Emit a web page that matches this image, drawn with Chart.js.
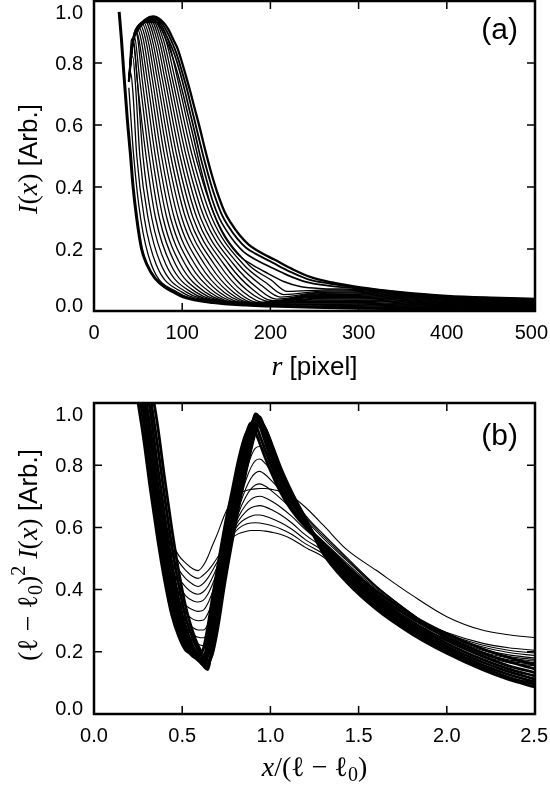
<!DOCTYPE html>
<html>
<head>
<meta charset="utf-8">
<script src="https://cdn.jsdelivr.net/npm/chart.js@4.4.1/dist/chart.umd.min.js"></script>
<style>
  html, body { margin: 0; padding: 0; background: #fff; }
  #wrap { position: relative; width: 550px; height: 793px; }
  canvas { position: absolute; left: 0; }
  #chart-a { top: 0; }
  #chart-b { top: 390px; }
</style>
</head>
<body>
<div id="wrap">
  <canvas id="chart-a" width="550" height="390"></canvas>
  <canvas id="chart-b" width="550" height="403"></canvas>
</div>
<script>
// ---- panel (a): I(r) profiles, [r, I] pairs ----
const firstProfile = [[28.5,.965],[31,.88],[34,.76],[38,.61],[41.5,.5],[44,.41],[48.4,.3],[54,.2],[60,.15],[69,.106],[82,.074],[91,.06],[101,.046],[135,.027],[173,.019],[200,.016],[250,.012],[300,.009],[400,.006],[500,.004]];

const midProfiles = [
  [[39.5,.72],[45,.5],[52.8,.3],[65,.15],[94.8,.06],[130,.031],[200,.018],[300,.0117],[400,.0077],[500,.0054]],
  [[39.5,.74],[41.5,.77],[44,.71],[48.5,.5],[57,.3],[70.5,.15],[100.1,.06],[135,.032],[200,.02],[300,.0144],[400,.0094],[500,.0068]],
  [[39.5,.74],[42,.82],[44,.82],[47,.73],[52,.5],[61.3,.3],[76,.15],[105.4,.06],[140,.032],[200,.022],[300,.0172],[400,.0112],[500,.0082]],
  [[39.5,.74],[42.5,.85],[44.5,.86],[47.5,.8],[55.5,.5],[65.5,.3],[81.5,.15],[110.7,.06],[145,.031],[200,.023],[300,.0199],[400,.0129],[500,.0096]],
  [[39.5,.74],[42.5,.875],[44.5,.88],[48.8,.75],[59,.5],[69.8,.3],[87,.15],[116,.06],[150,.03],[200,.024],[300,.0226],[400,.0146],[500,.011]],
  [[39.5,.74],[43.5,.86],[45.5,.89],[51.7,.75],[62.5,.5],[74.1,.3],[92.5,.15],[121.3,.06],[155,.029],[210,.026],[300,.0253],[400,.0163],[500,.0124]],
  [[39.5,.74],[43.5,.855],[46,.9],[48.8,.89],[54.5,.75],[66,.5],[78.3,.3],[98,.15],[126.6,.06],[160,.028],[220,.028],[300,.028],[400,.018],[500,.0138]],
  [[39.5,.74],[43.5,.855],[47,.91],[51.3,.87],[57.4,.75],[69.5,.5],[82.6,.3],[103.5,.15],[131.9,.06],[165,.027],[230,.03],[300,.0308],[400,.0198],[500,.0152]],
  [[39.5,.74],[43.5,.855],[48.5,.915],[53.8,.87],[60.2,.75],[73,.5],[86.8,.3],[109,.15],[137.2,.06],[170,.026],[240,.032],[300,.0335],[400,.0215],[500,.0166]],
  [[39.5,.74],[43.5,.855],[50,.92],[56.4,.87],[63.1,.75],[76.5,.5],[91.1,.3],[114.5,.15],[142.5,.06],[175,.025],[245,.035],[300,.0362],[400,.0232],[500,.018]],
  [[39.5,.74],[43.5,.855],[52,.925],[59,.87],[66,.75],[80,.5],[95.4,.3],[120,.15],[147.8,.06],[180,.025],[250,.038],[300,.0389],[400,.0249],[500,.0194]],
  [[39.5,.74],[43.5,.855],[48,.905],[54,.93],[61.5,.87],[68.8,.75],[83.5,.5],[99.6,.3],[125.5,.15],[153.1,.06],[183,.024],[250,.041],[300,.0416],[400,.0266],[500,.0208]],
  [[39.5,.74],[43.5,.855],[48,.905],[56,.932],[64,.87],[71.7,.75],[87,.5],[103.9,.3],[131,.15],[158.4,.06],[187,.023],[250,.044],[300,.0444],[400,.0284],[500,.0222]],
  [[39.5,.74],[43.5,.855],[48,.905],[55,.925],[58,.935],[66.5,.87],[74.5,.75],[90.5,.5],[108.1,.3],[136.5,.15],[163.7,.06],[191,.024],[250,.047],[300,.0471],[400,.0301],[500,.0236]],
  [[39.5,.74],[43.5,.855],[48,.905],[55,.928],[60,.937],[69.1,.87],[77.4,.75],[94,.5],[112.4,.3],[142,.15],[169,.062],[195,.026],[255,.05],[300,.0498],[400,.0318],[500,.025]],
  [[39.5,.74],[43.5,.855],[48,.905],[55,.93],[62,.938],[71.7,.87],[80.3,.75],[97.5,.5],[116.7,.3],[147.5,.15],[174.3,.065],[199,.03],[255,.053],[300,.0525],[400,.0335],[500,.0264]],
  [[39.5,.74],[43.5,.855],[48,.905],[55,.93],[64,.94],[74.2,.87],[83.1,.75],[101,.5],[120.9,.3],[153,.15],[179.6,.07],[203,.033],[258,.056],[300,.0552],[400,.0352],[500,.0278]],
  [[39.5,.74],[43.5,.855],[48,.905],[55,.93],[66,.94],[76.7,.87],[86,.75],[104.5,.5],[125.2,.3],[158.5,.15],[184.9,.075],[207,.038],[260,.059],[300,.058],[400,.037],[500,.0292]],
  [[39.5,.74],[43.5,.855],[48,.905],[55,.93],[68,.938],[79.2,.87],[88.8,.75],[108,.5],[129.4,.3],[164,.15],[190.2,.082],[211,.045],[262,.062],[300,.0607],[400,.0387],[500,.0306]],
  [[39.5,.74],[43.5,.855],[48,.905],[55,.93],[70,.935],[81.8,.87],[91.7,.75],[111.5,.5],[133.7,.3],[169.5,.15],[195.5,.09],[215,.053],[265,.065],[300,.0634],[400,.0404],[500,.032]],
  [[39.5,.74],[43.5,.855],[48,.905],[55,.93],[72,.93],[84.4,.87],[94.6,.75],[115,.5],[138,.3],[175,.15],[200.8,.10],[219,.063],[268,.068],[300,.0661],[400,.0421],[500,.0334]]
];

// the last profiles, bunched into the thick outer edge
const edgeProfiles = [
  [[39.5,.74],[44,.865],[50,.905],[57,.93],[64,.94],[72,.93],[78,.9],[84,.86],[89,.82],[95,.765],[101,.7],[106,.64],[112,.57],[118,.495],[125,.415],[132,.345],[140,.285],[148,.24],[158,.2],[168,.17],[180,.148],[198,.12],[215,.095],[235,.078],[260,.072],[300,.069],[350,.055],[400,.044],[450,.039],[500,.035]],
  [[39.5,.74],[44,.865],[50,.91],[58,.935],[65,.943],[74,.932],[80,.9],[86,.865],[91,.83],[97,.775],[103,.71],[108,.65],[114,.58],[120,.505],[127,.43],[134,.36],[142,.3],[150,.26],[160,.22],[170,.19],[182,.168],[200,.142],[220,.115],[240,.094],[265,.082],[300,.072],[350,.057],[400,.0456],[450,.04],[500,.036]],
  [[39.5,.74],[44,.87],[50,.915],[58,.938],[66,.946],[75,.935],[82,.905],[88,.87],[93,.835],[99,.78],[105,.72],[111,.65],[117,.58],[123,.51],[130,.435],[137,.37],[145,.31],[152,.275],[162,.235],[172,.205],[183,.185],[203,.155],[222,.127],[242,.103],[268,.088],[300,.075],[350,.059],[400,.047],[450,.041],[500,.0375]],
  [[39.5,.74],[44,.87],[50,.915],[58,.94],[67,.95],[76,.938],[84,.91],[90,.875],[95,.845],[101,.79],[108,.72],[114,.655],[120,.59],[126,.52],[133,.445],[140,.38],[148,.32],[155,.285],[165,.245],[175,.215],[185,.195],[205,.165],[225,.135],[245,.11],[270,.092],[300,.077],[350,.06],[400,.049],[450,.043],[500,.039]]
];
const edgeWidths = [1.5, 1.7, 1.9, 2.3];

const rTicks = [0, 100, 200, 300, 400, 500];
const rTickLabels = ['0', '100', '200', '300', '400', '500'];
const yTicks = [0, 0.2, 0.4, 0.6, 0.8, 1.0];
const yTickLabels = ['0.0', '0.2', '0.4', '0.6', '0.8', '1.0'];

// ---- panel (b): rescaled profiles on a shared x grid ----
const xGridB = [0.24, 0.28, 0.32, 0.36, 0.40, 0.44, 0.48, 0.52, 0.56, 0.59, 0.62, 0.645, 0.67, 0.70, 0.74, 0.78, 0.82, 0.86, 0.89, 0.915, 0.94, 0.97, 1.01, 1.06, 1.12, 1.2, 1.3, 1.43, 1.6, 1.8, 2.0, 2.2, 2.35, 2.5];

// collapsed curves (the thick band)
const bandCurvesB = [
  [1.035,.89,.72,.565,.43,.32,.25,.205,.195,.19,.21,.28,.37,.47,.60,.71,.82,.90,.92,.905,.87,.825,.77,.71,.655,.60,.55,.478,.395,.318,.258,.21,.182,.158],
  [1.077,.94,.77,.61,.466,.35,.268,.212,.185,.177,.175,.245,.335,.44,.57,.685,.795,.895,.935,.93,.895,.85,.79,.725,.665,.605,.545,.47,.385,.308,.246,.197,.168,.145],
  [1.12,.985,.82,.655,.505,.38,.288,.226,.19,.172,.162,.21,.30,.41,.54,.66,.77,.87,.93,.955,.925,.875,.81,.74,.68,.613,.54,.462,.376,.298,.236,.186,.155,.133],
  [1.16,1.02,.87,.70,.547,.415,.31,.243,.196,.176,.158,.185,.26,.37,.50,.63,.74,.845,.915,.962,.94,.89,.83,.758,.692,.62,.537,.455,.368,.29,.227,.176,.145,.122],
  [1.2,1.06,.915,.745,.59,.45,.337,.26,.207,.178,.155,.143,.235,.34,.475,.605,.72,.825,.90,.965,.95,.90,.84,.765,.695,.62,.53,.447,.36,.282,.218,.167,.136,.112],
  [1.25,1.105,.97,.80,.64,.49,.37,.28,.22,.19,.165,.152,.21,.315,.455,.585,.70,.81,.885,.94,.955,.91,.85,.775,.70,.622,.525,.44,.352,.274,.21,.158,.127,.103],
  [1.3,1.16,1.02,.865,.70,.545,.415,.31,.243,.205,.178,.162,.195,.295,.435,.565,.68,.79,.865,.92,.945,.92,.86,.785,.71,.625,.52,.433,.345,.266,.202,.15,.118,.095],
  [1.35,1.21,1.07,.93,.76,.60,.46,.345,.265,.22,.19,.172,.19,.27,.415,.545,.665,.775,.85,.905,.935,.92,.865,.79,.715,.628,.515,.425,.337,.258,.195,.143,.111,.087]
];

// early, not yet collapsed curves
const earlyCurvesB = [
  [1.15,1.0,.86,.72,.62,.555,.51,.485,.467,.461,.478,.505,.54,.58,.64,.685,.708,.718,.722,.724,.725,.725,.722,.715,.70,.664,.607,.53,.462,.383,.313,.27,.255,.245],
  [1.15,1.0,.855,.715,.605,.535,.49,.462,.442,.436,.447,.46,.478,.503,.537,.565,.58,.587,.59,.59,.59,.588,.584,.577,.563,.535,.505,.445,.375,.31,.262,.228,.213,.205],
  [1.16,1.01,.86,.71,.59,.515,.465,.435,.417,.41,.42,.437,.46,.49,.533,.572,.597,.61,.614,.615,.614,.611,.605,.595,.578,.547,.515,.452,.38,.31,.258,.222,.205,.196],
  [1.16,1.01,.86,.705,.58,.495,.44,.408,.39,.385,.393,.41,.437,.475,.528,.575,.61,.628,.636,.64,.64,.636,.628,.615,.595,.56,.525,.46,.385,.312,.255,.216,.198,.188],
  [1.16,1.015,.865,.71,.575,.48,.415,.38,.364,.36,.366,.385,.415,.458,.52,.577,.622,.65,.663,.668,.67,.666,.656,.64,.615,.575,.535,.47,.392,.315,.252,.21,.19,.18],
  [1.17,1.02,.87,.715,.57,.465,.39,.35,.335,.33,.334,.355,.39,.44,.51,.578,.635,.672,.69,.698,.70,.695,.683,.664,.636,.592,.545,.478,.398,.318,.25,.205,.185,.175],
  [1.17,1.02,.87,.715,.565,.45,.37,.325,.305,.30,.302,.322,.36,.42,.50,.58,.648,.698,.724,.736,.74,.733,.716,.692,.66,.61,.555,.487,.403,.32,.248,.20,.18,.17],
  [1.17,1.025,.875,.715,.56,.44,.35,.30,.278,.27,.27,.288,.33,.40,.49,.58,.66,.724,.758,.775,.78,.77,.748,.717,.678,.624,.565,.495,.407,.322,.246,.196,.174,.165],
  [1.17,1.025,.875,.715,.56,.43,.335,.28,.255,.247,.245,.262,.305,.38,.48,.58,.672,.75,.793,.815,.82,.806,.778,.74,.693,.632,.572,.50,.41,.323,.243,.192,.17,.16],
  [1.17,1.025,.875,.715,.56,.425,.325,.265,.235,.224,.22,.236,.28,.36,.47,.578,.682,.775,.828,.855,.86,.843,.808,.758,.703,.638,.578,.505,.412,.323,.24,.188,.165,.155]
];

const xTicksB = [0, 0.5, 1.0, 1.5, 2.0, 2.5];
const xTickLabelsB = ['0.0', '0.5', '1.0', '1.5', '2.0', '2.5'];

const SANS = '"Liberation Sans", Arial, Helvetica, sans-serif';
const SERIF = '"Liberation Serif", "DejaVu Serif", serif';
const MATH_I = 'italic 28px ' + SERIF;
const MATH = '28px ' + SERIF;
const TEXT = '26px ' + SANS;

function profileSet(points, width) {
  return {
    data: points.map(p => ({ x: p[0], y: p[1] })),
    borderColor: '#000',
    borderWidth: width,
    pointRadius: 0,
    fill: false,
    cubicInterpolationMode: 'monotone',
    clip: 0
  };
}

function gridSet(values, width) {
  return profileSet(values.map((v, i) => [xGridB[i], v]), width);
}

// draws pieces of text of mixed fonts, centred on cx
function drawPieces(ctx, pieces, cx, baseline) {
  let total = 0;
  pieces.forEach(p => { ctx.font = p[1]; total += ctx.measureText(p[0]).width; });
  let x = cx - total / 2;
  pieces.forEach(p => {
    ctx.font = p[1];
    ctx.fillText(p[0], x, baseline + (p[2] || 0));
    x += ctx.measureText(p[0]).width;
  });
}

const framePlugin = {
  id: 'frame',
  afterDraw(chart, args, o) {
    const { ctx, chartArea: a } = chart;
    const xs = chart.scales.x, ys = chart.scales.y;
    ctx.save();
    ctx.strokeStyle = '#000';
    ctx.fillStyle = '#000';

    // inward ticks on all four sides
    ctx.lineWidth = 1.5;
    ctx.beginPath();
    o.xTicks.forEach(v => {
      const px = xs.getPixelForValue(v);
      if (px < a.left + 2 || px > a.right - 2) return;
      ctx.moveTo(px, a.bottom); ctx.lineTo(px, a.bottom - 8);
      ctx.moveTo(px, a.top); ctx.lineTo(px, a.top + 8);
    });
    o.yTicks.forEach(v => {
      const py = ys.getPixelForValue(v);
      if (py < a.top + 2 || py > a.bottom - 2) return;
      ctx.moveTo(a.left, py); ctx.lineTo(a.left + 8, py);
      ctx.moveTo(a.right, py); ctx.lineTo(a.right - 8, py);
    });
    ctx.stroke();

    ctx.lineWidth = 2.5;
    ctx.strokeRect(a.left, a.top, a.right - a.left, a.bottom - a.top);

    // tick labels
    ctx.font = '20px ' + SANS;
    ctx.textBaseline = 'middle';
    ctx.textAlign = 'center';
    o.xTicks.forEach((v, i) => {
      let px = xs.getPixelForValue(v);
      const w = ctx.measureText(o.xLabels[i]).width;
      if (px + w / 2 > 548) px = 548 - w / 2;
      ctx.fillText(o.xLabels[i], px, a.bottom + 22);
    });
    ctx.textAlign = 'right';
    o.yTicks.forEach((v, i) => {
      let py = ys.getPixelForValue(v) + 1;
      py = Math.min(Math.max(py, a.top + 12), a.bottom - 5);
      ctx.fillText(o.yLabels[i], a.left - 11, py);
    });

    // titles
    ctx.textAlign = 'left';
    ctx.textBaseline = 'alphabetic';
    drawPieces(ctx, o.xTitle, (a.left + a.right) / 2, o.xTitleY);
    ctx.save();
    ctx.translate(37, o.yTitleCY);
    ctx.rotate(-Math.PI / 2);
    drawPieces(ctx, o.yTitle, 0, 0);
    ctx.restore();

    // panel label
    ctx.font = '30px ' + SANS;
    ctx.textAlign = 'right';
    ctx.fillText(o.panel, 518, o.panelY);
    ctx.restore();
  }
};

function panelOptions(xMax, padTop, bottomH, frame) {
  return {
    responsive: false,
    animation: false,
    events: [],
    devicePixelRatio: 1,
    layout: { padding: { top: padTop, right: 15, left: 0, bottom: 0 } },
    plugins: { legend: { display: false }, tooltip: { enabled: false }, frame: frame },
    scales: {
      x: {
        type: 'linear', min: 0, max: xMax,
        ticks: { display: false }, grid: { display: false }, border: { display: false },
        afterFit: s => { s.height = bottomH; }
      },
      y: {
        type: 'linear', min: 0, max: 1,
        ticks: { display: false }, grid: { display: false }, border: { display: false },
        afterFit: s => { s.width = 94; }
      }
    }
  };
}

// panel (a)
const setsA = [];
midProfiles.forEach(p => setsA.push(profileSet(p, 1.3)));
edgeProfiles.forEach((p, i) => setsA.push(profileSet(p, edgeWidths[i])));
setsA.push(profileSet(firstProfile, 3));

new Chart(document.getElementById('chart-a'), {
  type: 'line',
  data: { datasets: setsA },
  options: panelOptions(500, 1, 79, {
    xTicks: rTicks, xLabels: rTickLabels,
    yTicks: yTicks, yLabels: yTickLabels,
    xTitle: [['r', MATH_I], [' [pixel]', TEXT]], xTitleY: 375,
    yTitle: [['I', MATH_I], ['(', MATH], ['x', MATH_I], [')', MATH], [' [Arb.]', TEXT]], yTitleCY: 159,
    panel: '(a)', panelY: 39
  }),
  plugins: [framePlugin]
});

// panel (b)
const setsB = [];
earlyCurvesB.forEach(v => setsB.push(gridSet(v, 1.1)));
bandCurvesB.forEach(v => setsB.push(gridSet(v, 2.8)));

new Chart(document.getElementById('chart-b'), {
  type: 'line',
  data: { datasets: setsB },
  options: panelOptions(2.5, 13, 79, {
    xTicks: xTicksB, xLabels: xTickLabelsB,
    yTicks: yTicks, yLabels: yTickLabels,
    xTitle: [['x', MATH_I], ['/(', MATH], ['\u2113', MATH], [' \u2212 ', MATH], ['\u2113', MATH], ['0', '20px ' + SERIF, 5], [')', MATH]], xTitleY: 386,
    yTitle: [['(', MATH], ['\u2113', MATH], [' \u2212 ', MATH], ['\u2113', MATH], ['0', '20px ' + SERIF, 5], [')', MATH], ['2', '20px ' + SERIF, -12],
             [' ', MATH], ['I', MATH_I], ['(', MATH], ['x', MATH_I], [')', MATH], [' [Arb.]', TEXT]], yTitleCY: 165,
    panel: '(b)', panelY: 55
  }),
  plugins: [framePlugin]
});
</script>
</body>
</html>
